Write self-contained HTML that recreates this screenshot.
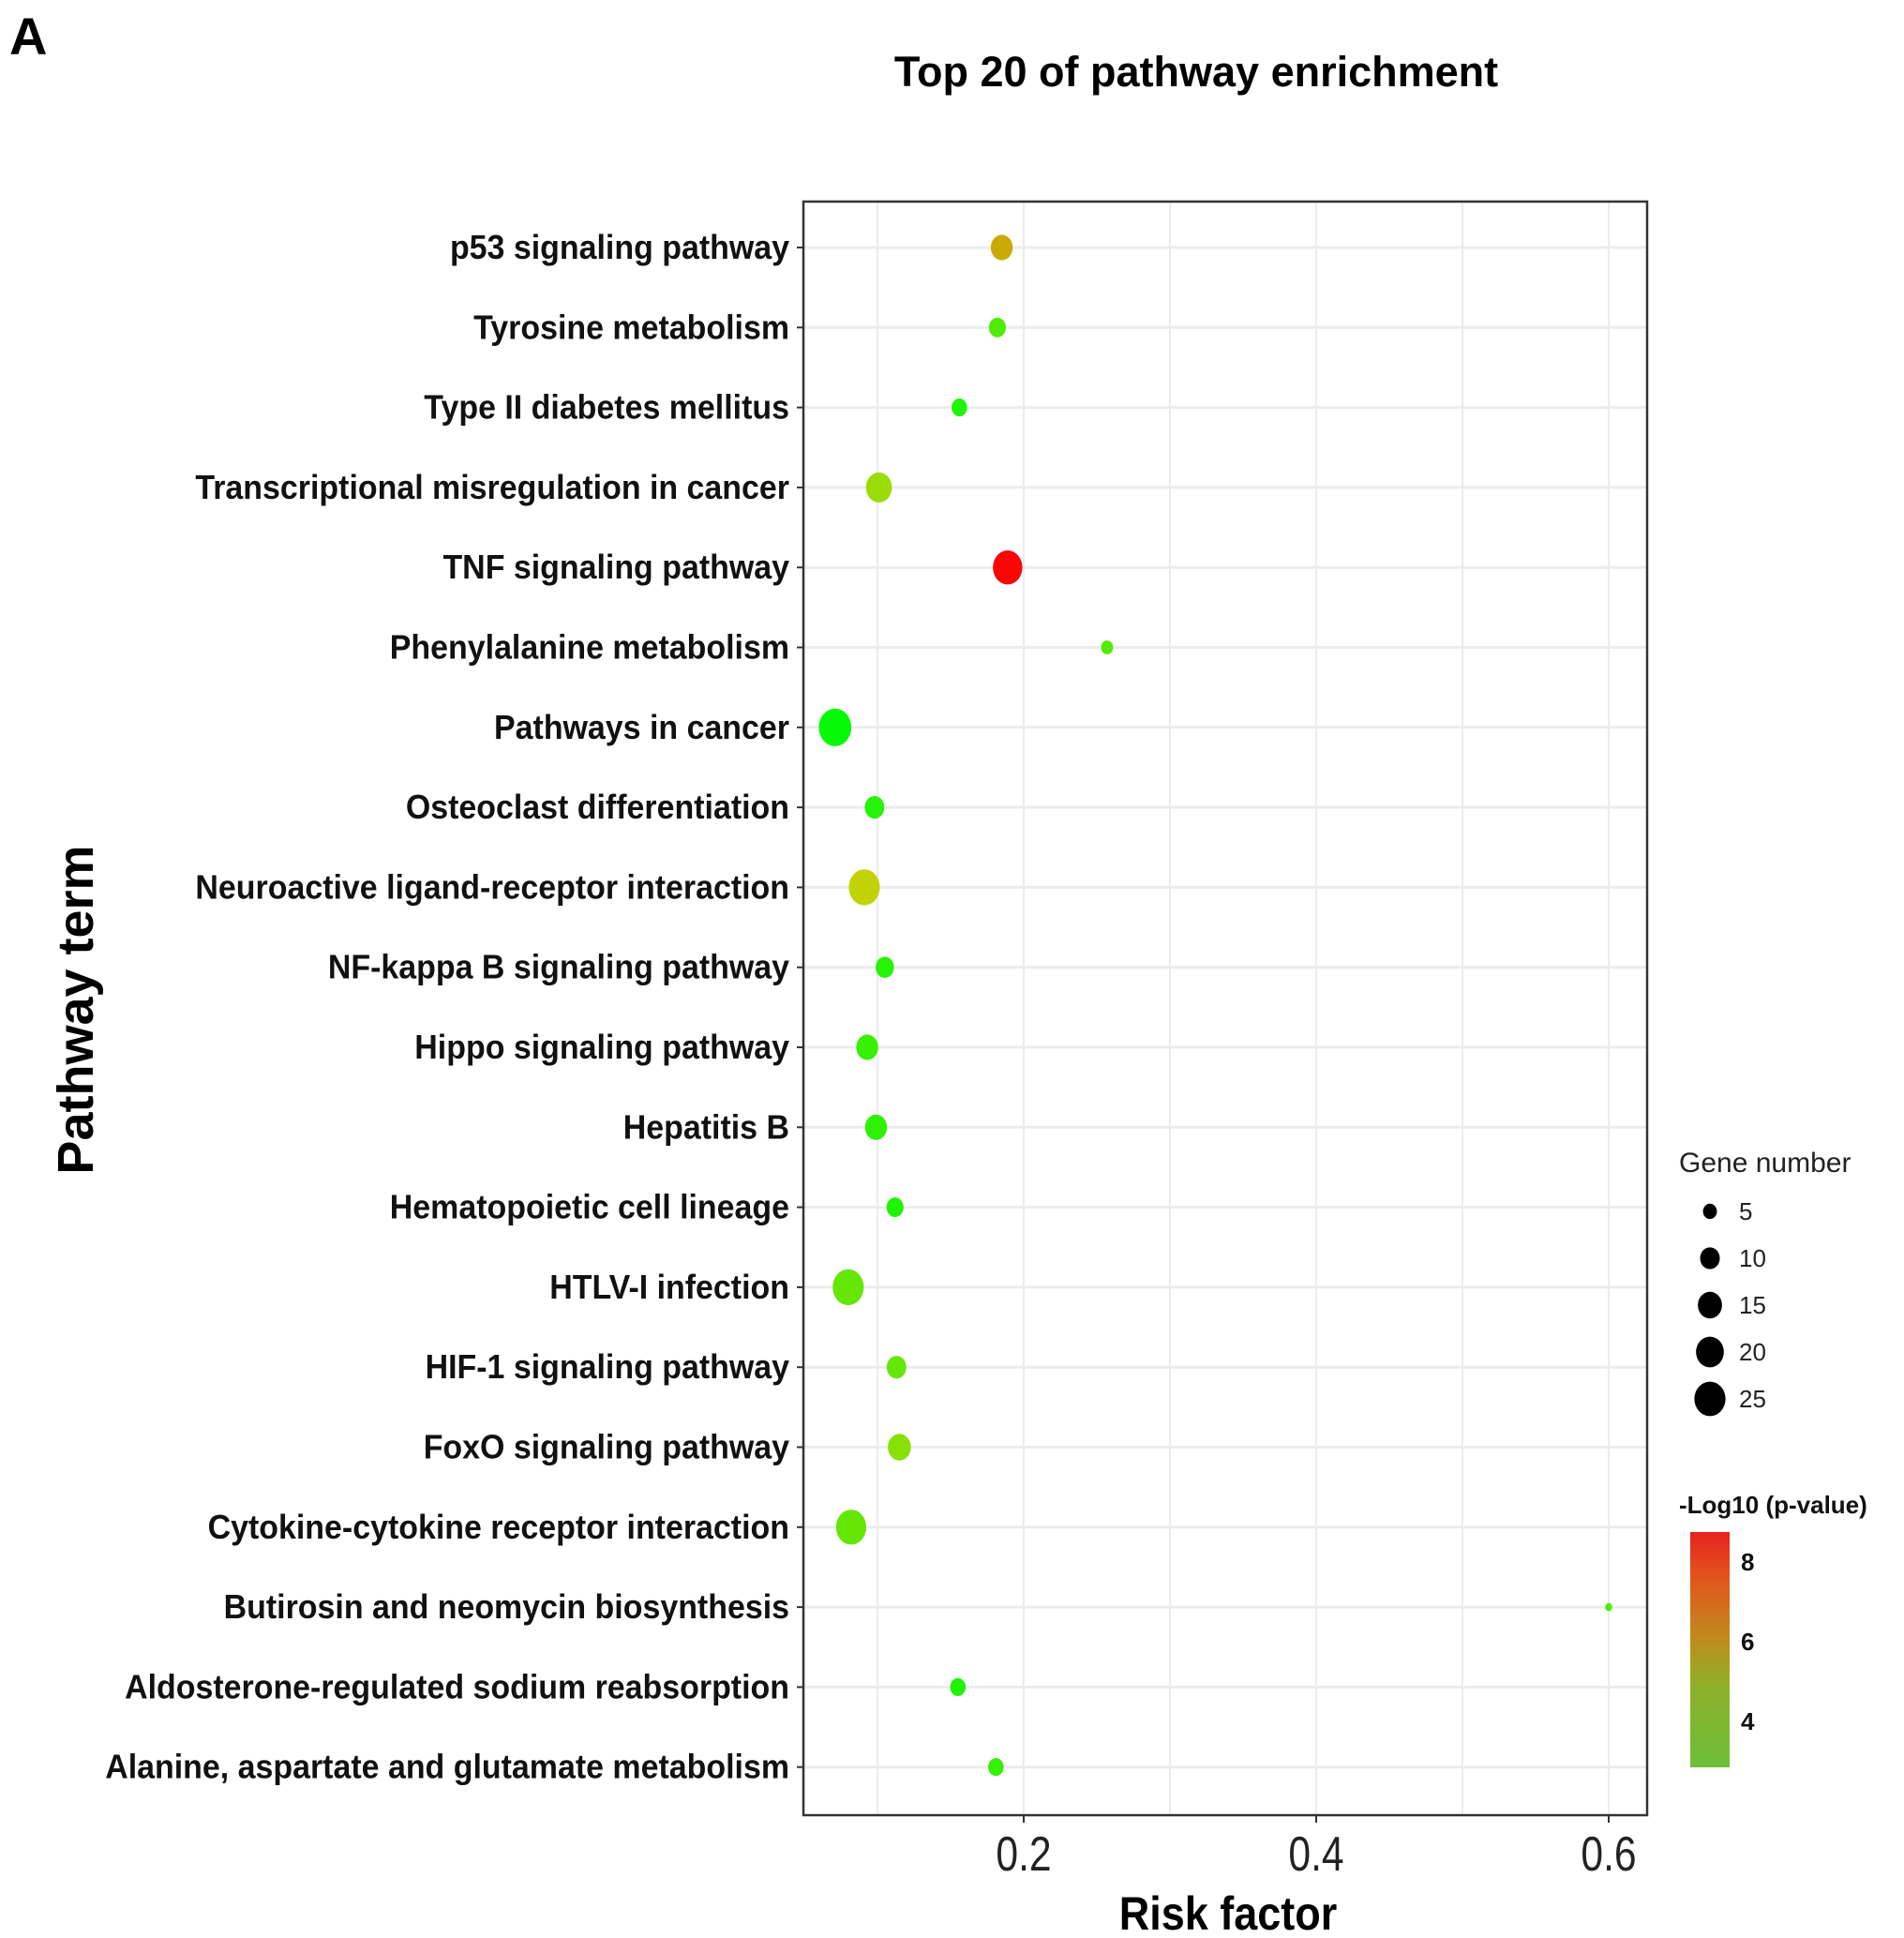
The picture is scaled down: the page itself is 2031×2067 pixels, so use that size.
<!DOCTYPE html>
<html><head><meta charset="utf-8"><style>
html,body{margin:0;padding:0;background:#fff;}
svg{display:block;font-family:"Liberation Sans",Arial,sans-serif;}
</style></head><body>
<svg id="chart" width="2031" height="2067" viewBox="0 0 2031 2067" xmlns="http://www.w3.org/2000/svg">
<text x="10" y="58" font-size="56" font-weight="bold">A</text>
<text x="1276" y="92" font-size="45" font-weight="bold" text-anchor="middle">Top 20 of pathway enrichment</text>
<g id="plot"></g>
<text transform="translate(99,1077) rotate(-90)" font-size="54" font-weight="bold" text-anchor="middle">Pathway term</text>
<text transform="translate(1310,2058) scale(0.9,1)" font-size="50" font-weight="bold" text-anchor="middle">Risk factor</text>
<text x="1791" y="1250" font-size="30" fill="#222">Gene number</text>
<text x="1791" y="1614" font-size="26" font-weight="bold" fill="#111">-Log10 (p-value)</text>
<defs><linearGradient id="cg" x1="0" y1="1" x2="0" y2="0">
<stop offset="0" stop-color="#6cbf3a"/><stop offset="0.35" stop-color="#8fb02a"/><stop offset="0.55" stop-color="#c08a1c"/><stop offset="0.8" stop-color="#e2561c"/><stop offset="1" stop-color="#e8221e"/></linearGradient></defs>
<rect x="1803" y="1634" width="42" height="251" fill="url(#cg)"/>
<g id="legend"></g>
</svg>
<script>
const categories = ["p53 signaling pathway","Tyrosine metabolism","Type II diabetes mellitus","Transcriptional misregulation in cancer","TNF signaling pathway","Phenylalanine metabolism","Pathways in cancer","Osteoclast differentiation","Neuroactive ligand-receptor interaction","NF-kappa B signaling pathway","Hippo signaling pathway","Hepatitis B","Hematopoietic cell lineage","HTLV-I infection","HIF-1 signaling pathway","FoxO signaling pathway","Cytokine-cytokine receptor interaction","Butirosin and neomycin biosynthesis","Aldosterone-regulated sodium reabsorption","Alanine, aspartate and glutamate metabolism"];
const riskFactor = [0.185,0.182,0.156,0.101,0.189,0.257,0.071,0.098,0.091,0.105,0.093,0.099,0.112,0.080,0.113,0.115,0.082,0.600,0.155,0.181];
const geneNumber = [10,6,5,14,18,3,22,8,20,7,10,10,6,20,8,11,19,1,5,5];
const negLogP = [6.3,3.9,3.3,5.0,8.7,4.0,3.0,3.4,5.6,3.4,3.6,3.5,3.3,4.2,4.2,4.7,4.2,3.8,3.3,3.6];
const xTicks = [0.2,0.4,0.6];
const xGrid = [0.1,0.2,0.3,0.4,0.5,0.6];
const sizeLegend = [5,10,15,20,25];
const colorTicks = [4,6,8];

const NS="http://www.w3.org/2000/svg";
const L=857,R=1757,T=215,B=1936;
const xs=v=>780+v*1560;
const ys=i=>264+i*85.3;
const rs=n=>3.9*Math.sqrt(n);
const rl=n=>3.5*Math.sqrt(n);
const cMin=3,cMax=8.7;
const col=v=>{const t=(v-cMin)/(cMax-cMin);const l=t<0.6?50-10*t/0.6:40+10*(t-0.6)/0.4;return `hsl(${120*(1-t)},95%,${l}%)`;};
const cs=v=>1885-(v-2.85)/(8.75-2.85)*251;
function mk(tag,attrs,parent){const e=document.createElementNS(NS,tag);for(const k in attrs)e.setAttribute(k,attrs[k]);parent.appendChild(e);return e;}
const plot=document.getElementById('plot');
const lg=document.getElementById('legend');
mk('rect',{x:L,y:T,width:R-L,height:B-T,fill:'#fff'},plot);
xGrid.forEach(v=>{const g=mk('line',{x1:xs(v),x2:xs(v),y1:T,y2:B,stroke:'#ececec','stroke-width':2},plot);

});
categories.forEach((c,i)=>{
 const g=mk('line',{x1:L,x2:R,y1:ys(i),y2:ys(i),stroke:'#ececec','stroke-width':3},plot);
 
 
 const tk=mk('line',{x1:L-7,x2:L,y1:ys(i),y2:ys(i),stroke:'#333','stroke-width':2},plot);
 
 
 const t=mk('text',{transform:`translate(842,${ys(i)+12}) scale(0.93,1)`,'font-size':36.5,'font-weight':'bold','text-anchor':'end',fill:'#111'},plot);
 t.textContent=c;
 
 
});
categories.forEach((c,i)=>{
 const r=rs(geneNumber[i]);
 const e=mk('ellipse',{cx:xs(riskFactor[i]),cy:ys(i),rx:r*0.95,ry:r*1.1,fill:col(negLogP[i])},plot);
 
 
});
const fr=mk('rect',{x:L,y:T,width:R-L,height:B-T,fill:'none',stroke:'#333','stroke-width':2.5},plot);


xTicks.forEach(v=>{
 const tk=mk('line',{x1:xs(v),x2:xs(v),y1:B,y2:B+8,stroke:'#333','stroke-width':2},plot);
 
 
 const t=mk('text',{transform:`translate(${xs(v)},1995) scale(0.82,1)`,'font-size':52,'text-anchor':'middle',fill:'#222'},plot);
 t.textContent=String(v);
 
 
});
sizeLegend.forEach((n,i)=>{
 const y=1292+i*50;
 const c=mk('ellipse',{cx:1824,cy:y,rx:rl(n)*0.95,ry:rl(n)*1.05,fill:'#000'},lg);
 
 
 const t=mk('text',{x:1855,y:y+9,'font-size':26,fill:'#222'},lg);
 t.textContent=String(n);
 
 
});
colorTicks.forEach(v=>{
 const t=mk('text',{x:1857,y:cs(v)+9,'font-size':26,'font-weight':'bold',fill:'#111'},lg);
 t.textContent=String(v);
 
 
});
</script>
</body></html>
